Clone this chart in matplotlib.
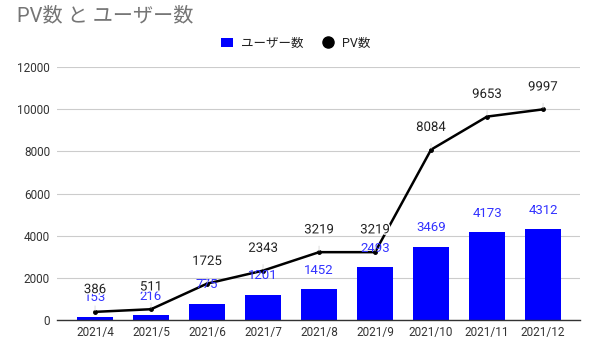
import matplotlib.pyplot as plt
import matplotlib.patheffects as pe
import numpy as np

plt.rcParams['font.family'] = ['Roboto', 'Noto Sans CJK JP', 'DejaVu Sans']

# 月ごとのデータ
months = ['2021/4', '2021/5', '2021/6', '2021/7', '2021/8',
          '2021/9', '2021/10', '2021/11', '2021/12']
users = [153, 216, 775, 1201, 1452, 2493, 3469, 4173, 4312]
pv = [386, 511, 1725, 2343, 3219, 3219, 8084, 9653, 9997]

fig = plt.figure(figsize=(5.91, 3.44), dpi=100)
ax = fig.add_axes([0.0964, 0.0698, 0.885, 0.735])

x = np.arange(len(months))
bars = ax.bar(x, users, width=0.64, color='#0000ff', zorder=2, label='ユーザー数')
line, = ax.plot(x, pv, color='black', lw=1.8, marker='o', markersize=2.5,
                zorder=3, label='PV数')

# 値ラベル(細い引き出し線つき)
for xi, v in zip(x, users):
    ax.annotate(str(v), (xi, v), xytext=(0, 13.7), textcoords='offset points',
                ha='center', va='center', fontsize=9.5, color='#3333ff', zorder=5)
for xi, v in zip(x, pv):
    ax.annotate(str(v), (xi, v), xytext=(0, 16), textcoords='offset points',
                ha='center', va='center', fontsize=9.5, color='#222222', zorder=6,
                path_effects=[pe.withStroke(linewidth=2, foreground='white')],
                arrowprops=dict(arrowstyle='-', color='#dddddd', lw=0.7,
                                shrinkA=5, shrinkB=1))

ax.set_xlim(-0.68, 8.66)
ax.set_ylim(0, 12000)
ax.set_yticks(range(0, 12001, 2000))
ax.set_xticks(x)
ax.set_xticklabels(months)
ax.tick_params(axis='both', length=0, labelsize=8.5, colors='#333333')
ax.tick_params(axis='y', pad=5)
ax.tick_params(axis='x', pad=4)
ax.grid(axis='y', color='#cccccc', lw=0.8, zorder=0)
ax.set_axisbelow(True)
for side in ['left', 'right', 'top']:
    ax.spines[side].set_visible(False)
ax.spines['bottom'].set_color('#333333')
ax.spines['bottom'].set_linewidth(1)
ax.spines['bottom'].set_zorder(4)

leg = fig.legend(handles=[bars, line], labels=['ユーザー数', 'PV数'],
                 loc='center', bbox_to_anchor=(0.5, 0.875), ncol=2,
                 frameon=False, fontsize=9, handlelength=1.0,
                 columnspacing=1.5, handletextpad=0.6)
leg.legend_handles[1].set_linestyle('none')
leg.legend_handles[1].set_markersize(8)
for t in leg.get_texts():
    t.set_color('#222222')

fig.text(0.028, 0.955, 'PV数 と ユーザー数', fontsize=14.5, color='#757575',
         ha='left', va='center')

fig.savefig('out.png', dpi=100)
